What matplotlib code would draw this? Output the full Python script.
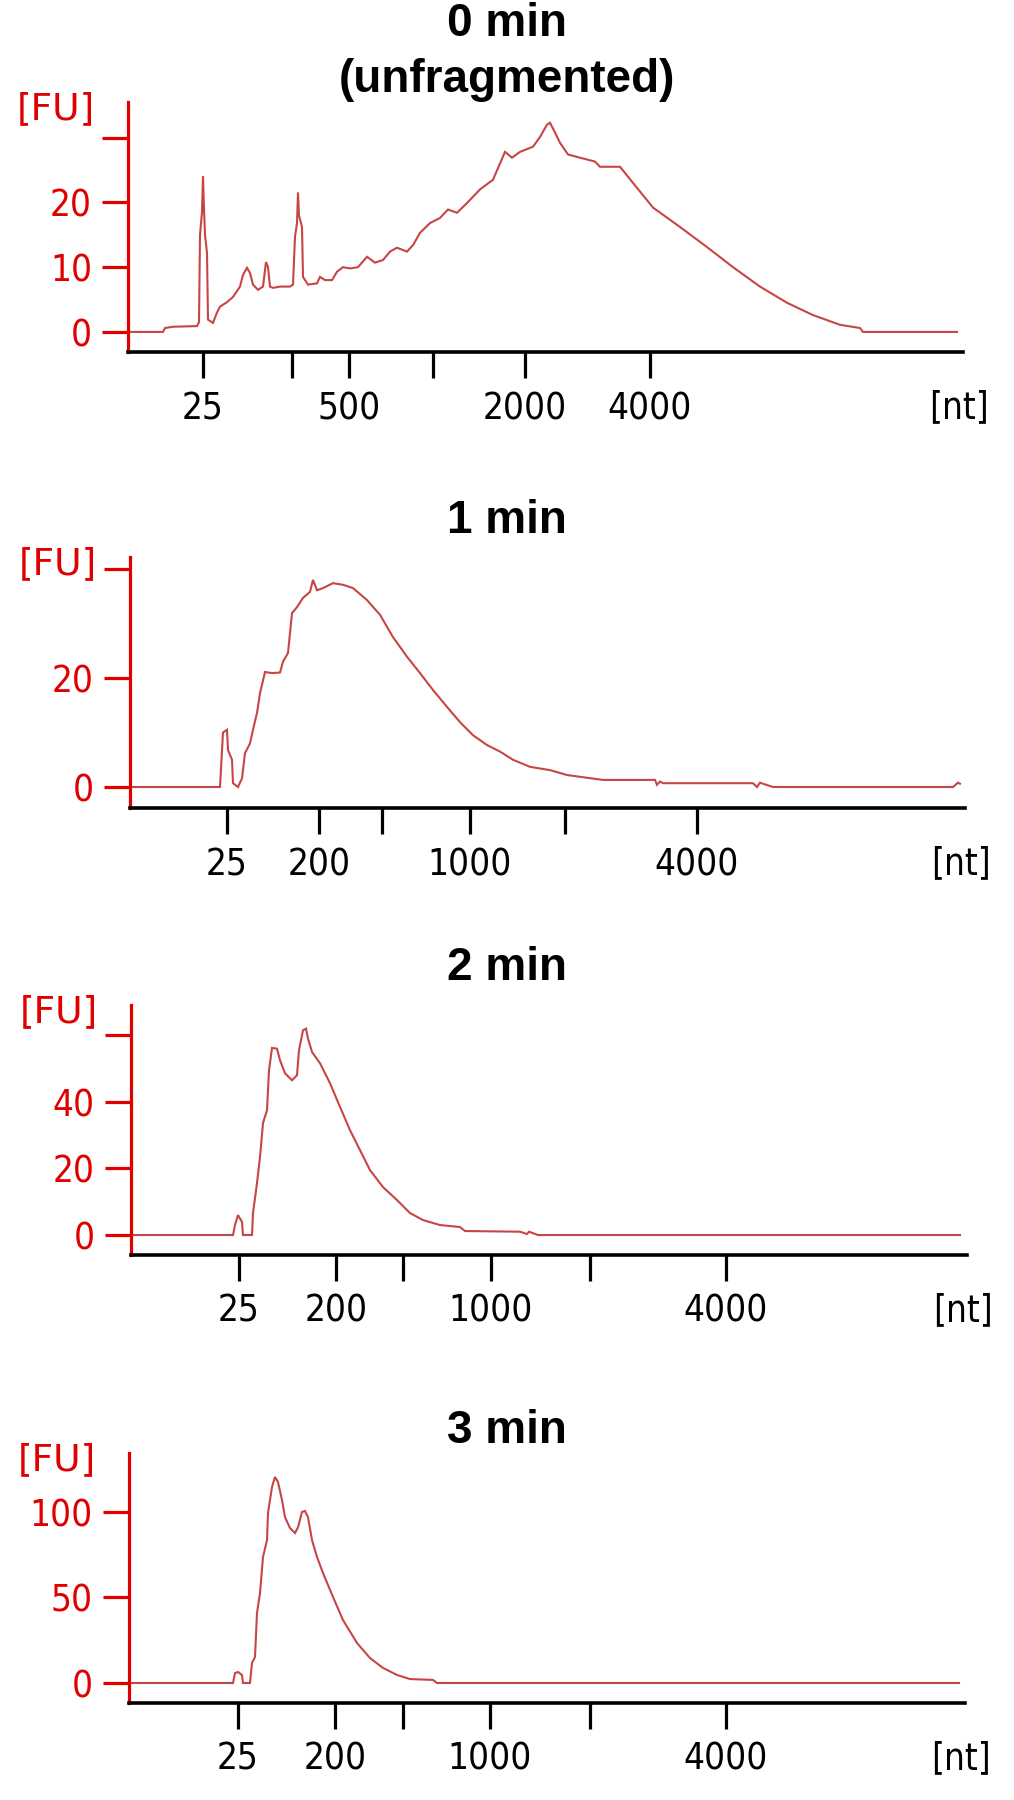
"""
Bioanalyzer electropherograms of RNA after 0-3 min of fragmentation.
Four stacked panels, fluorescence [FU] vs migration, ladder ticks in [nt].
"""

import matplotlib
matplotlib.use("Agg")
import matplotlib.pyplot as plt

# ---------------------------------------------------------------------------
# Data  (x = migration position in a.u. along the axis, y = fluorescence FU)
# ---------------------------------------------------------------------------
TITLES = ["0 min\n(unfragmented)", "1 min", "2 min", "3 min"]

# 0 min (unfragmented)
X0 = [0, 35, 37, 45, 69, 71, 72, 74, 75, 76, 77, 79, 80, 85, 89, 92, 99, 105,
      112, 115, 119, 122, 125, 130, 135, 138, 140, 142, 145, 152, 162, 165,
      167, 169, 170, 171, 174, 175, 180, 189, 192, 197, 204, 209, 215, 222,
      230, 239, 247, 255, 262, 269, 279, 285, 292, 302, 312, 320, 329, 339,
      352, 365, 377, 384, 392, 405, 412, 419, 422, 427, 432, 440, 452, 467,
      472, 492, 505, 525, 552, 579, 605, 632, 659, 685, 712, 732, 735, 829]
Y0 = [0, 0, 0.6, 0.8, 0.9, 1.5, 15, 18.5, 24, 19, 15, 12.2, 1.9, 1.4, 3.0,
      3.9, 4.6, 5.4, 7, 8.8, 9.9, 9.1, 7.3, 6.5, 7, 10.8, 10, 7, 6.8, 7, 7,
      7.3, 14.7, 16.8, 21.5, 18, 16.2, 8.5, 7.3, 7.5, 8.5, 8, 8, 9.3, 10,
      9.8, 10, 11.6, 10.7, 11.1, 12.4, 13, 12.4, 13.4, 15.3, 16.8, 17.6,
      18.9, 18.4, 19.9, 22, 23.5, 27.8, 26.9, 27.8, 28.6, 30.1, 32, 32.3,
      30.8, 29.2, 27.4, 26.9, 26.3, 25.5, 25.5, 23, 19.2, 16.2, 13.1, 10, 7,
      4.5, 2.6, 1.1, 0.6, 0, 0]

# 1 min
X1 = [0, 90, 93, 97, 98, 102, 103, 108, 112, 115, 120, 123, 127, 130, 135,
      142, 150, 153, 158, 162, 167, 173, 180, 183, 187, 193, 203, 213, 223,
      237, 250, 263, 277, 290, 303, 317, 330, 343, 357, 370, 383, 400, 420,
      437, 473, 525, 527, 530, 533, 623, 627, 630, 633, 643, 823, 828, 830]
Y1 = [0, 0, 10, 10.5, 6.8, 5, 0.7, 0, 1.6, 6.2, 8, 10.5, 13.6, 17.2, 21.1,
      20.9, 21, 23, 24.6, 31.9, 33, 34.7, 35.8, 38, 36.1, 36.5, 37.4, 37.1,
      36.5, 34.3, 31.6, 27.5, 23.9, 20.9, 17.8, 14.7, 11.9, 9.5, 7.7, 6.5,
      5, 3.7, 3.1, 2.2, 1.3, 1.3, 0.4, 1.0, 0.7, 0.7, 0, 0.8, 0.6, 0, 0,
      0.8, 0.6]

# 2 min
X2 = [0, 102, 104, 107, 111, 112, 121, 122, 126, 129, 132, 136, 138, 141,
      146, 149, 154, 161, 166, 168, 172, 175, 177, 181, 189, 199, 209, 219,
      229, 239, 252, 266, 279, 292, 309, 329, 334, 389, 396, 398, 407, 829]
Y2 = [0, 0, 3, 6, 3.9, 0, 0, 6.6, 15.6, 23.4, 33.6, 37.5, 49.5, 56.2, 56,
      52.5, 48.6, 46.5, 48, 55.5, 61.5, 62, 59, 55, 51.6, 45.6, 38.5, 31.5,
      25.5, 19.5, 14.4, 10.5, 6.6, 4.5, 3, 2.4, 1.2, 1.0, 0.3, 1.0, 0, 0]

# 3 min
X3 = [0, 104, 106, 109, 113, 114, 121, 123, 126, 128, 131, 134, 138, 139,
      143, 146, 149, 153, 156, 161, 166, 169, 173, 176, 179, 183, 188, 194,
      204, 214, 228, 241, 254, 268, 281, 304, 308, 830]
Y3 = [0, 0, 5.8, 6.4, 4.7, 0, 0, 11.7, 15.2, 41, 52.6, 73.7, 83.6, 99.4,
      114.6, 120.5, 117.5, 107, 97, 90.6, 87.7, 91, 100, 100.6, 97, 83.6,
      73.7, 64.3, 50.3, 36.8, 23.4, 14.6, 8.8, 4.7, 2.3, 1.8, 0, 0]

# Ladder ticks (migration position) and their labels
NT_POS = [
    [75, 164, 221, 305, 397, 522],
    [97, 189, 252, 340, 435, 567],
    [108, 205, 272, 360, 459, 595],
    [109, 206, 274, 361, 461, 597],
]
NT_LABELS = [
    ["25", "", "500", "", "2000", "4000"],
    ["25", "200", "", "1000", "", "4000"],
    ["25", "200", "", "1000", "", "4000"],
    ["25", "200", "", "1000", "", "4000"],
]
FU_TICKS = [[0, 10, 20, 30], [0, 20, 40], [0, 20, 40, 60], [0, 50, 100]]
FU_LABELS = [["0", "10", "20", ""], ["0", "20", ""], ["0", "20", "40", ""],
             ["0", "50", "100"]]
FU_LIMS = [(-3.1, 35.5), (-3.85, 42.2), (-6.0, 69.1), (-11.7, 134.5)]

XS = [X0, X1, X2, X3]
YS = [Y0, Y1, Y2, Y3]

# ---------------------------------------------------------------------------
# Layout / style
# ---------------------------------------------------------------------------
W, H = 1014, 1800
# axes boxes in pixels: left, right, bottom (x axis), top
BOXES = [(128, 963, 352, 102), (130, 965, 808, 557),
         (131, 967, 1255, 1005), (129, 965, 1703, 1453)]
TITLE_Y = [(36, 92), (533,), (980,), (1443,)]

RED_AXIS = "#e00000"
TRACE = "#c84545"
TICK_FONT = dict(family="DejaVu Sans", stretch="condensed", size=26.5)
PX = 72 / 100  # points per pixel


def panel(fig, i):
    l, r, b, t = BOXES[i]
    ax = fig.add_axes([l / W, 1 - b / H, (r - l) / W, (b - t) / H])
    ax.plot(XS[i], YS[i], color=TRACE, lw=1.5, solid_joinstyle="miter")
    ax.set_xlim(0, r - l)
    ax.set_ylim(*FU_LIMS[i])

    for s in ["top", "right"]:
        ax.spines[s].set_visible(False)
    ax.spines["left"].set_color(RED_AXIS)
    ax.spines["left"].set_linewidth(3.2 * PX)
    ax.spines["bottom"].set_color("black")
    ax.spines["bottom"].set_linewidth(3.6 * PX)

    ax.set_yticks(FU_TICKS[i])
    ax.set_yticklabels(FU_LABELS[i], color=RED_AXIS, **TICK_FONT)
    ax.tick_params(axis="y", colors=RED_AXIS, length=26 * PX,
                   width=3.2 * PX, pad=10 * PX)
    ax.set_xticks(NT_POS[i])
    ax.set_xticklabels(NT_LABELS[i], color="black", **TICK_FONT)
    ax.tick_params(axis="x", colors="black", length=26 * PX,
                   width=3.2 * PX, pad=12 * PX)

    ax.annotate("[FU]", xy=(0, 1), xycoords="axes fraction",
                xytext=(-33 * PX, -7 * PX), textcoords="offset points",
                ha="right", va="center", color=RED_AXIS,
                family="DejaVu Sans", size=27)
    ax.annotate("[nt]", xy=(1, 0), xycoords="axes fraction",
                xytext=(26 * PX, -56 * PX), textcoords="offset points",
                ha="right", va="center", color="black", **TICK_FONT)
    return ax


def main():
    fig = plt.figure(figsize=(W / 100, H / 100), dpi=100)
    for i in range(4):
        panel(fig, i)
        for line, y in zip(TITLES[i].split("\n"), TITLE_Y[i]):
            fig.text(0.5, 1 - y / H, line, ha="center", va="baseline",
                     family="Liberation Sans", weight="bold", size=33)
    fig.savefig("out.png", dpi=100)


if __name__ == "__main__":
    main()
